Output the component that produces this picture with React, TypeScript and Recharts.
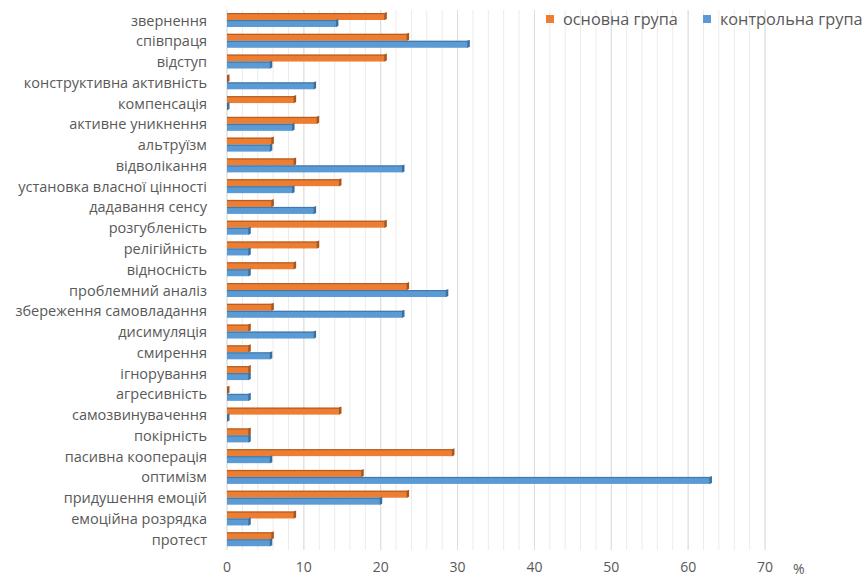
import React from 'react';
import {
  BarChart,
  Bar,
  XAxis,
  YAxis,
  CartesianGrid,
} from 'recharts';

// categories, top to bottom
const categories = [
  'звернення',
  'співпраця',
  'відступ',
  'конструктивна активність',
  'компенсація',
  'активне уникнення',
  'альтруїзм',
  'відволікання',
  'установка власної цінності',
  'дадавання сенсу',
  'розгубленість',
  'релігійність',
  'відносність',
  'проблемний аналіз',
  'збереження самовладання',
  'дисимуляція',
  'смирення',
  'ігнорування',
  'агресивність',
  'самозвинувачення',
  'покірність',
  'пасивна кооперація',
  'оптимізм',
  'придушення емоцій',
  'емоційна розрядка',
  'протест',
];

// основна група, %
const mainGroup = [
  20.6, 23.5, 20.6, 0, 8.8, 11.8, 5.9, 8.8, 14.7, 5.9, 20.6, 11.8, 8.8,
  23.5, 5.9, 2.9, 2.9, 2.9, 0, 14.7, 2.9, 29.4, 17.6, 23.5, 8.8, 5.9,
];

// контрольна група, %
const controlGroup = [
  14.3, 31.4, 5.7, 11.4, 0, 8.6, 5.7, 22.9, 8.6, 11.4, 2.9, 2.9, 2.9,
  28.6, 22.9, 11.4, 5.7, 2.9, 2.9, 0, 2.9, 5.7, 62.9, 20.0, 2.9, 5.7,
];

const majorTicks = [0, 10, 20, 30, 40, 50, 60, 70];
const minorTicks = [
  0, 2, 4, 6, 8, 10, 12, 14, 16, 18, 20, 22, 24, 26, 28, 30, 32, 34, 36,
  38, 40, 42, 44, 46, 48, 50, 52, 54, 56, 58, 60, 62, 64, 66, 68, 70,
];

const ORANGE = '#ED7D31';
const ORANGE_DARK = '#A8561E';
const BLUE = '#5B9BD5';
const BLUE_DARK = '#3E6F9C';

const data = categories.map((name, i) => ({
  name,
  main: mainGroup[i],
  control: controlGroup[i],
}));

const FONT = '"Open Sans", "Noto Sans", sans-serif';

// flat bar with a darker top edge and end cap, to mimic the old 3D look
const makeBar3D = (fill: string, dark: string) => (props: any) => {
  const { x, y, width, height } = props;
  if (width == null || height == null) return null;
  const w = Math.max(width, 1);
  return (
    <g>
      <rect x={x} y={y} width={w} height={height} fill={fill} />
      <rect x={x} y={y} width={w} height={1.2} fill={dark} opacity={0.8} />
      <polygon
        points={`${x + w - 1},${y} ${x + w + 1.5},${y - 1} ${x + w + 1.5},${y + height - 1} ${x + w - 1},${y + height}`}
        fill={dark}
      />
    </g>
  );
};

// minor grid every 2 %, placed through the x scale
const minorGrid = ({ xAxis, offset }: any) => {
  if (xAxis && typeof xAxis.scale === 'function') {
    return minorTicks.map((t) => xAxis.scale(t));
  }
  return minorTicks.map((t) => offset.left + (t / 70) * offset.width);
};

const Swatch = ({ color }: { color: string }) => (
  <span style={{ display: 'inline-block', width: 8, height: 8, background: color, marginRight: 9 }} />
);

export default function App() {
  return (
    <div style={{ position: 'absolute', left: 0, top: 0, width: 867, height: 577, background: '#fff' }}>
      <BarChart
        width={867}
        height={577}
        data={data}
        layout="vertical"
        margin={{ top: 10, right: 102, left: 0, bottom: 0 }}
        barGap={0}
        barSize={7}
      >
        <CartesianGrid
          horizontal={false}
          stroke="#ebebeb"
          verticalCoordinatesGenerator={minorGrid}
        />
        <CartesianGrid horizontal={false} stroke="#dcdcdc" />
        <XAxis
          type="number"
          domain={[0, 70]}
          ticks={majorTicks}
          axisLine={false}
          tickLine={false}
          tickSize={0}
          tickMargin={12}
          height={27}
          tick={{ fontSize: 14, fill: '#595959', fontFamily: FONT }}
          label={{ value: '%', position: 'right', offset: 28, dy: 6, fontSize: 14, fill: '#595959', fontFamily: FONT }}
        />
        <YAxis
          type="category"
          dataKey="name"
          width={227}
          axisLine={false}
          tickLine={false}
          tickSize={0}
          tickMargin={20}
          interval={0}
          tick={{ fontSize: 14.5, fill: '#595959', fontFamily: FONT }}
        />
        <Bar
          dataKey="main"
          name="основна група"
          fill={ORANGE}
          minPointSize={1}
          shape={makeBar3D(ORANGE, ORANGE_DARK)}
          isAnimationActive={false}
        />
        <Bar
          dataKey="control"
          name="контрольна група"
          fill={BLUE}
          minPointSize={1}
          shape={makeBar3D(BLUE, BLUE_DARK)}
          isAnimationActive={false}
        />
      </BarChart>
      <div
        style={{
          position: 'absolute',
          left: 546,
          top: 8,
          display: 'flex',
          alignItems: 'center',
          fontFamily: FONT,
          fontSize: 16.3,
          color: '#595959',
          whiteSpace: 'nowrap',
        }}
      >
        <Swatch color={ORANGE} />
        <span style={{ marginRight: 25 }}>основна група</span>
        <Swatch color={BLUE} />
        <span>контрольна група</span>
      </div>
    </div>
  );
}
